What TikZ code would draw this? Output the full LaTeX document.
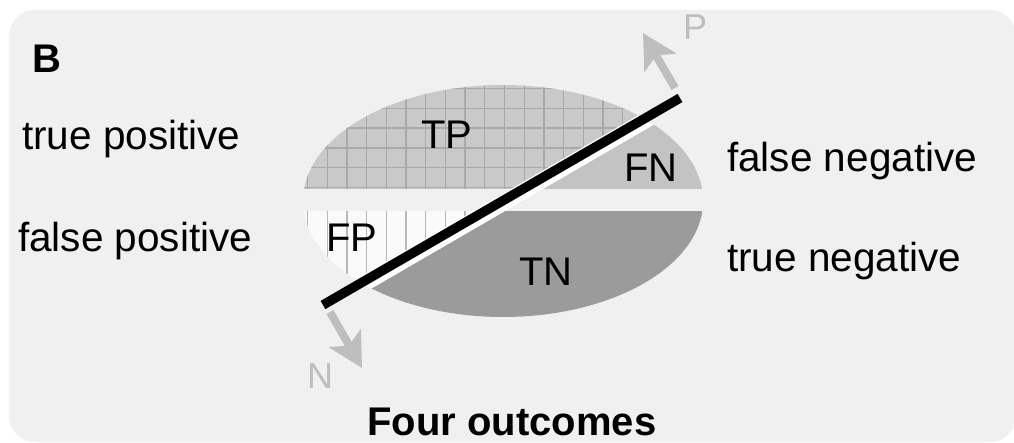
\documentclass[tikz,border=0pt]{standalone}
\usepackage{fontspec}
\setmainfont{Liberation Sans}
\usetikzlibrary{arrows.meta}
\definecolor{panelgray}{HTML}{F0F0F0}
\definecolor{tpgray}{HTML}{C9C9C9}
\definecolor{gridgray}{HTML}{A9A9A9}
\definecolor{fpwhite}{HTML}{FAFAFA}
\definecolor{hatchgray}{HTML}{B8B8B8}
\definecolor{fngray}{HTML}{C3C3C3}
\definecolor{tngray}{HTML}{9B9B9B}
\definecolor{arrowgray}{HTML}{BEBEBE}
\tikzstyle{sidetext}=[anchor=base west,inner sep=0pt,font=\fontsize{40.5}{48}\selectfont]
\tikzstyle{cell}=[inner sep=0pt,font=\fontsize{40}{48}\selectfont]
\tikzstyle{dirtext}=[inner sep=0pt,text=arrowgray,font=\fontsize{36}{43}\selectfont]
\tikzstyle{pointer}=[arrowgray,line width=8pt,-{Stealth[length=34pt,width=36pt,inset=8pt]}]
\tikzstyle{gridline}=[gridgray,line width=1.3pt]

\begin{document}
\begin{tikzpicture}[x=1pt,y=-1pt]
\useasboundingbox (0,0) rectangle (1014,443);
\fill[panelgray,rounded corners=26pt] (9,10) rectangle (1016,442);

% upper half of the ellipse
\begin{scope}
  \clip (503,201) ellipse [x radius=200,y radius=116];
  \clip (0,0) rectangle (1014,189);
  \fill[tpgray] (300,80) rectangle (710,190);
  \foreach \i in {0,...,20}
    \draw[gridline] (307.5+19.7*\i,80) -- (307.5+19.7*\i,190);
  \foreach \j in {0,...,5}
    \draw[gridline] (300,187.5-19.8*\j) -- (710,187.5-19.8*\j);
  \fill[fngray] (155,414) -- (858,6.3) -- (900,450) -- cycle;
\end{scope}

% lower half of the ellipse
\begin{scope}
  \clip (503,201) ellipse [x radius=200,y radius=116];
  \clip (0,212) rectangle (1014,443);
  \fill[fpwhite] (300,205) rectangle (710,330);
  \foreach \i in {0,...,20}
    \draw[hatchgray,line width=1.3pt] (307.5+19.7*\i,205) -- (307.5+19.7*\i,330);
  \fill[tngray] (155,414) -- (858,6.3) -- (900,450) -- cycle;
\end{scope}

% white margin along the cut
\begin{scope}
  \clip (503,201) ellipse [x radius=200,y radius=116];
  \draw[white,line width=16pt] (237.5,356.9) -- (767.5,49.5);
\end{scope}

\coordinate (lo) at (323,305);
\coordinate (hi) at (680,98);
\draw[line width=9.5pt] (lo) -- (hi);

\coordinate (pbase) at (675,88);
\coordinate (ptip) at (643,33);
\coordinate (nbase) at (330,312);
\coordinate (ntip) at (362,368);
\draw[pointer] (pbase) -- (ptip);
\draw[pointer] (nbase) -- (ntip);
\node[dirtext] (p) at (695,27) {P};
\node[dirtext] (n) at (320,376) {N};

\node[cell] (tp) at (447,135) {TP};
\node[cell] (fn) at (651,168) {FN};
\node[cell] (fp) at (352,238) {FP};
\node[cell] (tn) at (546,272) {TN};

\node[sidetext,font=\fontsize{40}{48}\selectfont\bfseries] (b) at (32,73) {B};
\node[sidetext] (tpos) at (22,150) {true positive};
\node[sidetext] (fpos) at (18,252) {false positive};
\node[sidetext] (fneg) at (727,172) {false negative};
\node[sidetext] (tneg) at (727,272) {true negative};
\node[anchor=base,inner sep=0pt,font=\fontsize{40}{48}\selectfont\bfseries] (title) at (512,435) {Four outcomes};
\end{tikzpicture}
\end{document}
